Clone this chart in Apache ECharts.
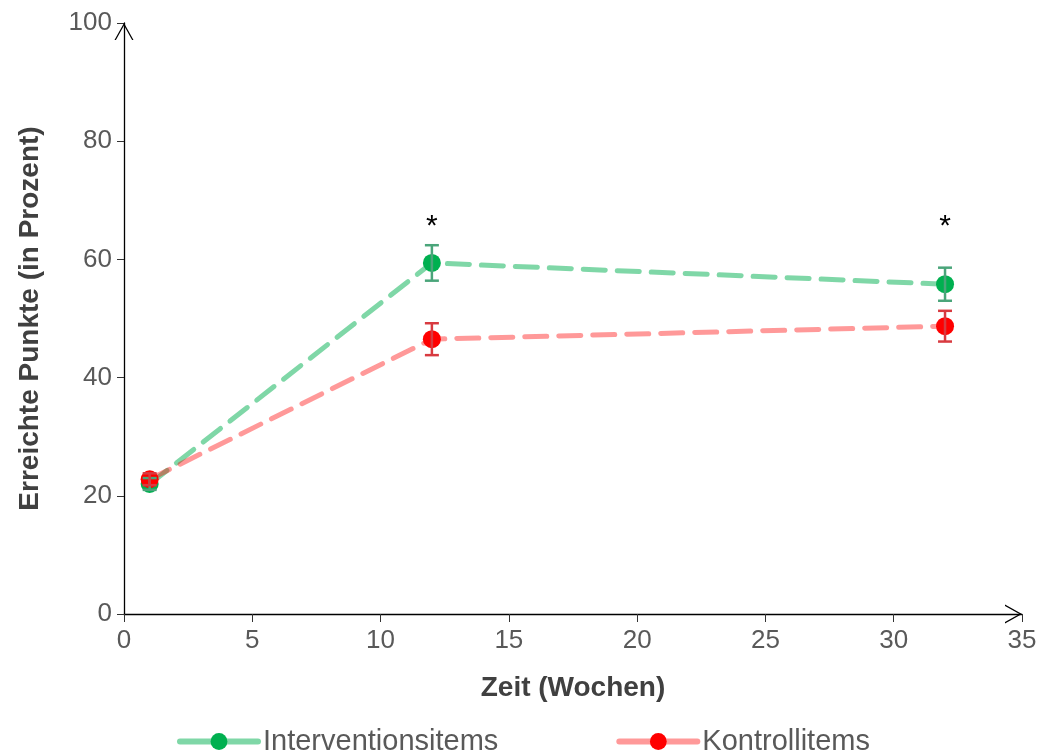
<!DOCTYPE html>
<html>
<head>
<meta charset="utf-8">
<script src="https://cdn.jsdelivr.net/npm/echarts@6/dist/echarts.min.js"></script>
<style>
html,body{margin:0;padding:0;background:#fff;}
#chart{width:1045px;height:753px;}
</style>
</head>
<body>
<div id="chart"></div>
<script>
// Data
var weeks = [1, 12, 32];
var interventionMean = [22.0, 59.4, 55.8];
var interventionErr = [1.0, 3.0, 2.8];
var kontrollMean = [22.8, 46.5, 48.7];
var kontrollErr = [1.0, 2.7, 2.6];
var significance = ['', '*', '*'];
var significanceLevel = 66.3;
var seriesNames = ['Interventionsitems', 'Kontrollitems'];
var xTitle = 'Zeit (Wochen)';
var yTitle = 'Erreichte Punkte (in Prozent)';

var font = 'Liberation Sans, Arial, sans-serif';

function errData(means, errs) {
  return weeks.map(function (w, i) { return [w, means[i] - errs[i], means[i] + errs[i], significance[i]]; });
}

function errRender(color, showSig) {
  return function (params, api) {
    var x = api.value(0);
    var lo = api.coord([x, api.value(1)]);
    var hi = api.coord([x, api.value(2)]);
    var cap = 7;
    var st = { stroke: color, lineWidth: 2.5 };
    var children = [
      { type: 'line', shape: { x1: lo[0], y1: lo[1], x2: hi[0], y2: hi[1] }, style: st },
      { type: 'line', shape: { x1: lo[0] - cap, y1: lo[1], x2: lo[0] + cap, y2: lo[1] }, style: st },
      { type: 'line', shape: { x1: hi[0] - cap, y1: hi[1], x2: hi[0] + cap, y2: hi[1] }, style: st }
    ];
    if (showSig && api.value(3)) {
      var sp = api.coord([x, significanceLevel]);
      children.push({
        type: 'text',
        style: { text: api.value(3), x: sp[0], y: sp[1] + 5, fill: '#000', font: '30px ' + font, align: 'center', verticalAlign: 'middle' }
      });
    }
    return { type: 'group', children: children };
  };
}

var arrowPath = 'path://M0,17 L9.5,0 L19,17 L17.6,17 L9.5,2.6 L1.4,17 Z';

var chart = echarts.init(document.getElementById('chart'));
chart.setOption({
  animation: false,
  backgroundColor: '#fff',
  grid: { left: 124, right: 23, top: 23, bottom: 139, containLabel: false },
  legend: {
    top: 722,
    left: 172,
    itemWidth: 78,
    itemHeight: 21,
    itemGap: 118,
    lineStyle: { type: 'solid', width: 6, cap: 'round' },
    textStyle: { fontFamily: font, fontSize: 29, color: '#595959' },
    data: seriesNames
  },
  xAxis: {
    type: 'value', min: 0, max: 35, interval: 5,
    name: xTitle, nameLocation: 'middle', nameGap: 60,
    nameTextStyle: { fontFamily: font, fontSize: 28, fontWeight: 'bold', color: '#404040' },
    axisLine: { lineStyle: { color: '#000', width: 1.3 }, symbol: ['none', arrowPath], symbolSize: [19, 17], symbolOffset: [0, -8.5] },
    axisTick: { show: true, length: 8, lineStyle: { color: '#333' } },
    axisLabel: { fontFamily: font, fontSize: 26, color: '#595959', margin: 14 },
    splitLine: { show: false }
  },
  yAxis: {
    type: 'value', min: 0, max: 100, interval: 20,
    name: yTitle, nameLocation: 'middle', nameGap: 80, nameRotate: 90,
    nameTextStyle: { fontFamily: font, fontSize: 28, fontWeight: 'bold', color: '#404040' },
    axisLine: { show: true, lineStyle: { color: '#000', width: 1.3 }, symbol: ['none', arrowPath], symbolSize: [19, 17], symbolOffset: [0, -8.5] },
    axisTick: { show: true, length: 7, lineStyle: { color: '#333' } },
    axisLabel: { fontFamily: font, fontSize: 26, color: '#595959', margin: 12 },
    splitLine: { show: false }
  },
  series: [
    {
      name: seriesNames[0], type: 'line', z: 3,
      data: weeks.map(function (w, i) { return [w, interventionMean[i]]; }),
      symbol: 'circle', symbolSize: 18,
      itemStyle: { color: '#00b050' },
      lineStyle: { color: 'rgba(0,176,80,0.5)', width: 5, type: [22, 12], cap: 'round' }
    },
    {
      name: seriesNames[1], type: 'line', z: 3,
      data: weeks.map(function (w, i) { return [w, kontrollMean[i]]; }),
      symbol: 'circle', symbolSize: 18,
      itemStyle: { color: '#ff0000' },
      lineStyle: { color: 'rgba(255,0,0,0.4)', width: 5, type: [22, 12], cap: 'round' }
    },
    {
      type: 'custom', z: 4, silent: true,
      data: errData(interventionMean, interventionErr),
      renderItem: errRender('#4aa57a', true)
    },
    {
      type: 'custom', z: 4, silent: true,
      data: errData(kontrollMean, kontrollErr),
      renderItem: errRender('#d83a40', false)
    }
  ]
});
</script>
</body>
</html>
